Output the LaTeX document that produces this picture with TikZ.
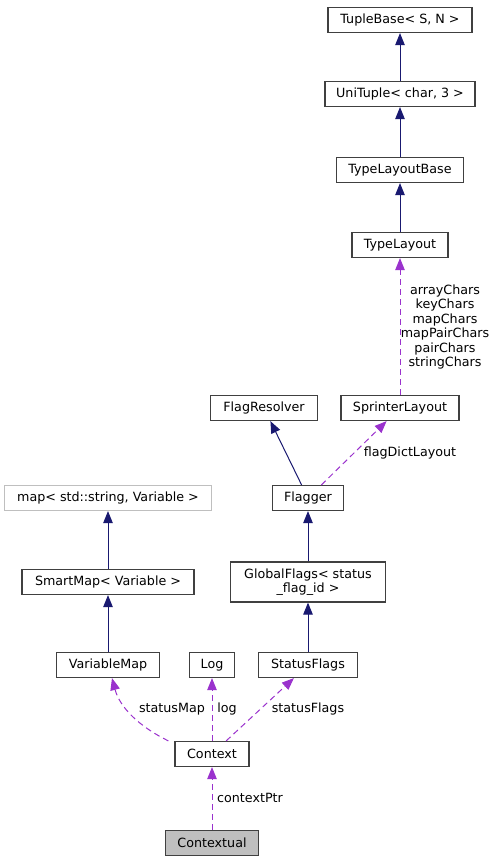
\documentclass[tikz,border=0pt]{standalone}
\usepackage{fontspec}
\setmainfont{DejaVu Sans}
\usetikzlibrary{arrows.meta,positioning}
\definecolor{inhblue}{RGB}{25,25,112}
\definecolor{usepurple}{RGB}{154,50,205}
\definecolor{boxgray}{RGB}{64,64,64}
\definecolor{extgray}{RGB}{191,191,191}

\begin{document}
\begin{tikzpicture}[x=1pt, y=1pt,
    cls/.style={draw=boxgray, line width=1.2pt, rectangle, minimum height=25pt, inner xsep=0.5pt, inner ysep=2pt, font=\fontsize{12.7}{14.5}\selectfont},
    inherit/.style={draw=inhblue, line width=1pt, -{Triangle[length=12pt,width=9.5pt]}},
    uses/.style={draw=usepurple, line width=1pt, dash pattern=on 6pt off 4pt, -{Triangle[length=12pt,width=9.5pt]}},
    lbl/.style={inner sep=0pt, align=center, font=\fontsize{12.7}{14.5}\selectfont}]
    \useasboundingbox (0,0) rectangle (497,-863);

    % template chain
    \node [cls, minimum width=144pt] (tuplebase) at (400,-20) {TupleBase< S, N >};
    \node [cls, minimum width=150pt] (unituple) at (400,-94) {UniTuple< char, 3 >};
    \node [cls, minimum width=127pt] (layoutbase) at (400,-170) {TypeLayoutBase};
    \node [cls, minimum width=96pt] (typelayout) at (400,-245) {TypeLayout};

    \node [cls, minimum width=107pt] (flagres) at (264,-408) {FlagResolver};
    \node [cls, minimum width=118pt] (sprinter) at (400,-408) {SprinterLayout};
    \node [cls, minimum width=71pt] (flagger) at (308,-498) {Flagger};
    \node [cls, minimum width=155pt, minimum height=40pt, align=center] (globalflags) at (308,-582) {GlobalFlags< status\\\_flag\_id >};

    \node [cls, draw=extgray, minimum width=207pt] (stdmap) at (108,-498) {map< std::string, Variable >};
    \node [cls, minimum width=172pt] (smartmap) at (108,-582) {SmartMap< Variable >};

    \node [cls, minimum width=103pt] (varmap) at (108,-665) {VariableMap};
    \node [cls, minimum width=45pt] (log) at (212,-665) {Log};
    \node [cls, minimum width=99pt] (statusflags) at (308,-665) {StatusFlags};
    \node [cls, minimum width=74pt] (context) at (212,-754) {Context};
    \node [cls, fill=extgray, minimum width=93pt] (contextual) at (212,-843) {Contextual};

    % inheritance
    \draw [inherit] (unituple) -- (tuplebase);
    \draw [inherit] (layoutbase) -- (unituple);
    \draw [inherit] (typelayout) -- (layoutbase);
    \draw [inherit] (flagger) -- (flagres);
    \draw [inherit] (globalflags) -- (flagger);
    \draw [inherit] (statusflags) -- (globalflags);
    \draw [inherit] (smartmap) -- (stdmap);
    \draw [inherit] (varmap) -- (smartmap);

    % usage
    \draw [uses] (sprinter) -- (typelayout);
    \draw [uses] (flagger) -- (sprinter);
    \draw [uses] ([xshift=-6pt]context.north west) .. controls (140,-727) and (120,-708) .. ([xshift=4pt]varmap.south);
    \draw [uses] (context) -- (log);
    \draw [uses] (context) -- (statusflags);
    \draw [uses] (contextual) -- (context);

    % member labels
    \node [lbl] (lblchars) at (445,-327) {arrayChars\\keyChars\\mapChars\\mapPairChars\\pairChars\\stringChars};
    \node [lbl] (lbldict) at (410,-453) {flagDictLayout};
    \node [lbl] (lblmap) at (172,-709) {statusMap};
    \node [lbl] (lbllog) at (227,-709) {log};
    \node [lbl] (lblflags) at (308,-709) {statusFlags};
    \node [lbl] (lblptr) at (250,-798) {contextPtr};
\end{tikzpicture}
\end{document}
